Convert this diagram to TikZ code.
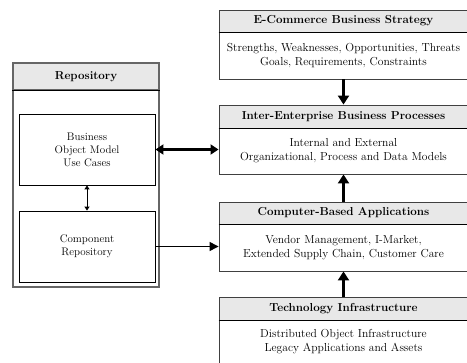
\documentclass[tikz,border=0pt]{standalone}
\usetikzlibrary{arrows.meta}
\begin{document}
\begin{tikzpicture}[x=1pt,y=-1pt,
  hdrbox/.style={draw=black!75,line width=0.9pt,fill=black!9,inner sep=0pt,
    font=\fontsize{11.6}{13}\selectfont\bfseries},
  bodybox/.style={draw=black!75,line width=0.9pt,fill=white,inner sep=0pt,align=center,
    font=\fontsize{11.6}{14}\selectfont},
  innerbox/.style={draw=black,line width=0.9pt,fill=white,inner sep=0pt,align=center,
    font=\fontsize{11}{13}\selectfont},
  bigarrow/.style={line width=2.6pt,-{Triangle[length=9pt,width=11pt]}},
  dblarrow/.style={line width=2.2pt,{Triangle[length=8pt,width=10pt]}-{Triangle[length=8pt,width=10pt]}},
  thinarrow/.style={line width=1.3pt,-{Triangle[length=9pt,width=9pt]}},
  smallarrow/.style={line width=1pt,{Triangle[length=4pt,width=5pt]}-{Triangle[length=4pt,width=5pt]}},
  sep/.style={line width=1.6pt,black}
]
\useasboundingbox[fill=white] (0,0) rectangle (467,363);

% Right column
\node[bodybox,minimum width=249pt,minimum height=47pt] (ab) at (343.5,55.5)
  {Strengths, Weaknesses, Opportunities, Threats\\Goals, Requirements, Constraints};
\node[hdrbox,minimum width=249pt,minimum height=22pt] (ah) at (343.5,21) {E-Commerce Business Strategy};
\draw[sep] (ah.south west) -- (ah.south east);

\node[bodybox,minimum width=249pt,minimum height=46pt] (bb) at (343.5,151)
  {Internal and External\\Organizational, Process and Data Models};
\node[hdrbox,minimum width=249pt,minimum height=23pt] (bh) at (343.5,116.5) {Inter-Enterprise Business Processes};
\draw[sep] (bh.south west) -- (bh.south east);

\node[bodybox,minimum width=249pt,minimum height=47pt] (cb) at (343.5,247.5)
  {Vendor Management, I-Market,\\Extended Supply Chain, Customer Care};
\node[hdrbox,minimum width=249pt,minimum height=22pt] (ch) at (343.5,213) {Computer-Based Applications};
\draw[sep] (ch.south west) -- (ch.south east);

\node[bodybox,minimum width=249pt,minimum height=60pt] (db) at (343.5,350) {};
\node[font=\fontsize{11.6}{14}\selectfont,align=center,inner sep=0pt] (dt) at (343.5,341.5)
  {Distributed Object Infrastructure\\Legacy Applications and Assets};
\node[hdrbox,minimum width=249pt,minimum height=23pt] (dh) at (343.5,308.5) {Technology Infrastructure};
\draw[sep] (dh.south west) -- (dh.south east);

% Left column
\node[draw=black!60,line width=1.2pt,fill=white,minimum width=146pt,minimum height=224pt,inner sep=0pt] (rep) at (86,175) {};
\node[hdrbox,draw=black!60,line width=1.2pt,minimum width=146pt,minimum height=27pt] (rh) at (86,76.5) {Repository};
\draw[sep] (rh.south west) -- (rh.south east);
\node[innerbox,minimum width=136pt,minimum height=71pt] (bom) at (87,149.5)
  {Business\\Object Model\\Use Cases};
\node[innerbox,minimum width=136pt,minimum height=71pt] (cr) at (87,246.5)
  {Component\\Repository};

% Arrows
\draw[bigarrow] (ab.south) -- (bh.north);
\draw[bigarrow] (ch.north) -- (bb.south);
\draw[bigarrow] (dh.north) -- (cb.south);
\draw[dblarrow] (bom.east) -- (bom.east -| bb.west);
\draw[thinarrow] (cr.east) -- (cr.east -| cb.west);
\draw[smallarrow] (bom.south) -- (cr.north);
\end{tikzpicture}
\end{document}
